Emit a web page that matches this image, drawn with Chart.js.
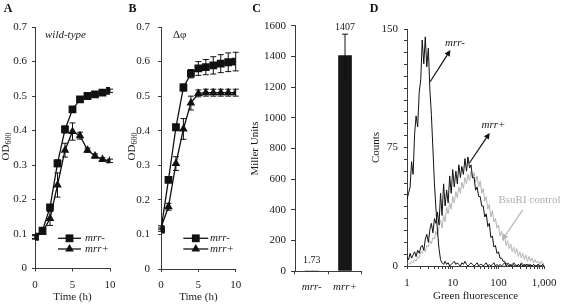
<!DOCTYPE html>
<html>
<head>
<meta charset="utf-8">
<script src="https://cdn.jsdelivr.net/npm/chart.js@4.4.1/dist/chart.umd.min.js"></script>
<style>
html,body{margin:0;padding:0;background:#fff;}
body{width:564px;height:304px;position:relative;overflow:hidden;}
canvas{position:absolute;top:0;}
</style>
</head>
<body>
<canvas id="panelA" width="125" height="304" style="left:0px"></canvas>
<canvas id="panelB" width="125" height="304" style="left:125px"></canvas>
<canvas id="panelC" width="125" height="304" style="left:245px"></canvas>
<canvas id="panelD" width="196" height="304" style="left:368px"></canvas>
<script>
// ---------- data ----------
const timeHours = [0,1,2,3,4,5,6,7,8,9,10];
const seriesNames = ['mrr-','mrr+'];

const wildTypeMrrMinus    = [0.092,0.110,0.177,0.305,0.403,0.461,0.490,0.500,0.505,0.510,0.515];
const wildTypeMrrMinusErr = [0.005,0.005,0.008,0.010,0.010,0.008,0.006,0.005,0.005,0.005,0.005];
const wildTypeMrrPlus     = [0.090,0.105,0.145,0.242,0.343,0.397,0.385,0.343,0.326,0.316,0.312];
const wildTypeMrrPlusErr  = [0.005,0.006,0.020,0.035,0.020,0.025,0.010,0.006,0.006,0.005,0.005];

const deltaPhiMrrMinus    = [0.114,0.258,0.410,0.525,0.565,0.580,0.584,0.589,0.594,0.598,0.600];
const deltaPhiMrrMinusErr = [0.005,0.006,0.008,0.010,0.012,0.020,0.022,0.025,0.026,0.027,0.027];
const deltaPhiMrrPlus     = [0.120,0.180,0.305,0.405,0.480,0.508,0.510,0.510,0.510,0.510,0.510];
const deltaPhiMrrPlusErr  = [0.005,0.010,0.020,0.030,0.020,0.010,0.010,0.010,0.010,0.010,0.010];

const odTickLabels = ['0','0.1','0.2','0.3','0.4','0.5','0.6','0.7'];

const strains = ['mrr-','mrr+'];
const millerUnits = [1.73, 1407];
const millerUnitsErr = [0, 138];
const millerValueLabels = ['1.73','1407'];
const millerTickLabels = ['0','200','400','600','800','1000','1200','1400','1600'];

const fluorescenceBins = [1,1.08,1.17,1.26,1.36,1.47,1.58,1.71,1.85,2,2.15,2.33,2.51,2.71,2.93,3.16,3.41,3.69,3.98,4.3,4.64,5.01,5.41,5.84,6.31,6.81,7.36,7.94,8.58,9.26,
10,10.8,11.7,12.6,13.6,14.7,15.8,17.1,18.5,20,21.5,23.3,25.1,27.1,29.3,31.6,34.1,36.9,39.8,43,46.4,50.1,54.1,58.4,63.1,68.1,73.6,79.4,85.8,92.6,
100,108,117,126,136,147,158,171,185,200,215,233,251,271,293,316,341,369,398,430,464,501,541,584,631,681,736,794,858,926,1000];

const mrrMinusCounts = [42,46,50,66,58,84,95,88,110,118,143,128,145,126,138,112,96,74,52,36,22,11,4,2,1,3,1,2,0,1,
2,3,1,2,1,0,2,1,3,1,0,1,2,1,0,1,2,0,1,1,0,1,2,0,1,0,1,2,0,1,
0,1,0,1,2,0,1,0,1,0,1,0,0,1,0,1,0,1,0,0,1,0,0,1,0,0,1,0,0,1,0];

const mrrPlusCounts = [6,4,8,5,7,9,6,10,8,12,
13,10,17,20,15,23,27,21,30,27,
34,26,46,32,52,38,48,40,57,46,
61,50,60,52,64,56,63,58,68,60,
69,62,64,56,56,48,50,44,44,38,
38,31,33,25,27,18,19,12,13,8,
9,5,5,3,3,1,2,1,0,1,
2,1,0,1,0,2,1,0,1,1,
0,1,0,1,0,0,1,0,0,1,0];

const bsuRIControlCounts = [1,2,1,3,2,4,3,6,5,9,
8,11,9,13,12,16,14,18,17,22,
19,25,29,24,32,28,37,33,40,36,
44,40,47,43,50,46,53,49,56,52,
58,54,60,55,59,53,57,50,54,46,
49,41,44,36,39,31,35,28,30,24,
26,19,22,16,19,13,16,11,14,9,
12,8,11,6,9,5,8,4,7,3,
6,3,5,2,4,2,3,1,3,1,2];

const fluorTickValues = [1,2,3,4,5,6,7,8,9,10,20,30,40,50,60,70,80,90,100,200,300,400,500,600,700,800,900,1000];
const fluorTickLabels = {1:'1',10:'10',100:'100',1000:'1,000'};
const countTickLabels = {0:'0',75:'75',150:'150'};

// ---------- style ----------
const SERIF = "'Liberation Serif','Times New Roman',serif";
Chart.defaults.font.family = SERIF;
Chart.defaults.font.size = 11;
Chart.defaults.color = '#1a1a1a';
Chart.defaults.animation = false;
Chart.defaults.plugins.legend.display = false;
Chart.defaults.plugins.tooltip.enabled = false;
const AXIS = '#3a3a3a';
const INK = '#111';

function letter(ctx, t, cx, cy) {
  ctx.save();
  ctx.font = `bold 12px ${SERIF}`;
  ctx.fillStyle = INK; ctx.textAlign = 'center'; ctx.textBaseline = 'middle';
  ctx.fillText(t, cx, cy);
  ctx.restore();
}
function drawOD(ctx, cx, cy) {
  ctx.save();
  ctx.translate(cx, cy);
  ctx.rotate(-Math.PI / 2);
  ctx.fillStyle = '#1a1a1a';
  ctx.textBaseline = 'alphabetic';
  ctx.font = `11px ${SERIF}`;
  const w1 = ctx.measureText('OD').width;
  ctx.font = `8px ${SERIF}`;
  const w2 = ctx.measureText('600').width;
  const start = -(w1 + w2) / 2;
  ctx.font = `11px ${SERIF}`;
  ctx.fillText('OD', start, 4);
  ctx.font = `8px ${SERIF}`;
  ctx.fillText('600', start + w1, 6.5);
  ctx.restore();
}
function drawTri(ctx, x, y, r) {
  ctx.beginPath();
  ctx.moveTo(x, y - r);
  ctx.lineTo(x + r * 0.866, y + r * 0.5);
  ctx.lineTo(x - r * 0.866, y + r * 0.5);
  ctx.closePath(); ctx.fill();
}
function drawGrowthLegend(ctx, x0, x1, textX, y0, y1) {
  ctx.save();
  ctx.strokeStyle = INK; ctx.fillStyle = INK; ctx.lineWidth = 1.3;
  const mx = (x0 + x1) / 2;
  [y0, y1].forEach((y) => { ctx.beginPath(); ctx.moveTo(x0, y); ctx.lineTo(x1, y); ctx.stroke(); });
  ctx.fillRect(mx - 3.9, y0 - 3.9, 7.8, 7.8);
  drawTri(ctx, mx, y1, 5);
  ctx.font = `italic 11px ${SERIF}`;
  ctx.textBaseline = 'middle'; ctx.textAlign = 'left';
  ctx.fillStyle = '#1a1a1a';
  ctx.fillText(seriesNames[0], textX, y0);
  ctx.fillText(seriesNames[1], textX, y1);
  ctx.restore();
}

const errorBarsPlugin = {
  id: 'errorBars',
  afterDatasetsDraw(chart) {
    const ctx = chart.ctx; const ys = chart.scales.y;
    chart.data.datasets.forEach((ds, di) => {
      if (!ds.errors) return;
      const meta = chart.getDatasetMeta(di);
      meta.data.forEach((el, i) => {
        const e = ds.errors[i]; if (!e) return;
        const raw = ds.data[i]; const v = (raw && raw.y !== undefined) ? raw.y : raw;
        const yTop = ys.getPixelForValue(v + e), yBot = ys.getPixelForValue(v - e);
        const cap = ds.capHalf || 3;
        ctx.save();
        ctx.strokeStyle = ds.errorColor || INK; ctx.lineWidth = 1;
        ctx.beginPath();
        ctx.moveTo(el.x, yTop); ctx.lineTo(el.x, yBot);
        ctx.moveTo(el.x - cap, yTop); ctx.lineTo(el.x + cap, yTop);
        ctx.moveTo(el.x - cap, yBot); ctx.lineTo(el.x + cap, yBot);
        ctx.stroke();
        ctx.restore();
      });
    });
  }
};

function axisGrid() { return { drawOnChartArea: false, tickLength: 3, color: AXIS, lineWidth: 1 }; }

function growthChart(id, minus, minusErr, plus, plusErr, cfg) {
  return new Chart(document.getElementById(id), {
    type: 'line',
    data: {
      datasets: [
        { data: timeHours.map((t, i) => ({ x: t, y: minus[i] })), errors: minusErr,
          borderColor: INK, borderWidth: 1.3, pointStyle: 'rect', pointRadius: 5.5,
          pointBackgroundColor: INK, pointBorderColor: INK, pointBorderWidth: 0, tension: 0 },
        { data: timeHours.map((t, i) => ({ x: t, y: plus[i] })), errors: plusErr,
          borderColor: INK, borderWidth: 1.3, pointStyle: 'triangle', pointRadius: 5,
          pointBackgroundColor: INK, pointBorderColor: INK, pointBorderWidth: 0, tension: 0 }
      ]
    },
    options: {
      responsive: false, maintainAspectRatio: false,
      layout: { padding: { left: 0, top: cfg.top, right: cfg.right, bottom: 0 } },
      scales: {
        x: { type: 'linear', min: 0, max: 10,
             ticks: { stepSize: 5, padding: 7, maxRotation: 0, color: '#1a1a1a' },
             grid: axisGrid(), border: { color: AXIS },
             title: { display: true, text: 'Time (h)', color: '#1a1a1a', padding: { top: 0, bottom: 0 } },
             afterFit(s) { s.height = cfg.xh; } },
        y: { min: 0, max: 0.7,
             ticks: { stepSize: 0.1, padding: cfg.ypad, color: '#1a1a1a', callback: (v) => odTickLabels[Math.round(v * 10)] },
             grid: axisGrid(), border: { color: AXIS },
             afterFit(s) { s.width = cfg.yw; } }
      }
    },
    plugins: [errorBarsPlugin, { id: 'decor' + id, afterDraw(chart) { cfg.decor(chart.ctx); } }]
  });
}

// Panel A
growthChart('panelA', wildTypeMrrMinus, wildTypeMrrMinusErr, wildTypeMrrPlus, wildTypeMrrPlusErr, {
  top: 27, right: 15, xh: 35.5, yw: 35, ypad: 5,
  decor(ctx) {
    letter(ctx, 'A', 8, 9);
    drawOD(ctx, 4.5, 146.5);
    ctx.save();
    ctx.font = `italic 11px ${SERIF}`; ctx.fillStyle = '#1a1a1a'; ctx.textBaseline = 'middle';
    ctx.fillText('wild-type', 45, 35);
    ctx.restore();
    drawGrowthLegend(ctx, 58, 81, 85, 238.3, 249);
  }
});

// Panel B
growthChart('panelB', deltaPhiMrrMinus, deltaPhiMrrMinusErr, deltaPhiMrrPlus, deltaPhiMrrPlusErr, {
  top: 27, right: 14.3, xh: 35, yw: 36, ypad: 8,
  decor(ctx) {
    letter(ctx, 'B', 7.5, 9);
    drawOD(ctx, 5.5, 146.5);
    ctx.save();
    ctx.font = `11px ${SERIF}`; ctx.fillStyle = '#1a1a1a'; ctx.textBaseline = 'middle';
    ctx.fillText('\u0394\u03C6', 48, 35);
    ctx.restore();
    drawGrowthLegend(ctx, 58.3, 83.3, 85, 238.3, 249);
  }
});

// Panel C
new Chart(document.getElementById('panelC'), {
  type: 'bar',
  data: { labels: strains, datasets: [{ data: millerUnits, errors: millerUnitsErr, capHalf: 3,
    backgroundColor: '#161616', borderWidth: 0, barPercentage: 0.41, categoryPercentage: 1 }] },
  options: {
    responsive: false, maintainAspectRatio: false,
    layout: { padding: { left: 0, top: 25.7, right: 8.3, bottom: 0 } },
    scales: {
      x: { ticks: { padding: 5.8, color: '#1a1a1a', font: { style: 'italic' } },
           grid: Object.assign(axisGrid(), { offset: true }), border: { color: AXIS },
           afterFit(s) { s.height = 32.7; } },
      y: { min: 0, max: 1600,
           ticks: { stepSize: 200, padding: 5, color: '#1a1a1a', callback: (v) => millerTickLabels[Math.round(v / 200)] },
           grid: Object.assign(axisGrid(), { tickLength: 4 }), border: { color: AXIS },
           title: { display: true, text: 'Miller Units', color: '#1a1a1a', padding: { top: 3.4, bottom: 0 } },
           afterFit(s) { s.width = 50; } }
    }
  },
  plugins: [errorBarsPlugin, { id: 'decorC', afterDraw(chart) {
    const ctx = chart.ctx; const ys = chart.scales.y; const meta = chart.getDatasetMeta(0);
    letter(ctx, 'C', 11.5, 9);
    ctx.save();
    ctx.font = `10px ${SERIF}`; ctx.fillStyle = '#1a1a1a'; ctx.textAlign = 'center'; ctx.textBaseline = 'middle';
    const zero = ys.getPixelForValue(0);
    meta.data.forEach((el, i) => {
      const y = Math.min(ys.getPixelForValue(millerUnits[i] + millerUnitsErr[i]) - 7, zero - 11);
      ctx.fillText(millerValueLabels[i], el.x, y);
    });
    ctx.restore();
  } }]
});

// Panel D
function arrow(ctx, x0, y0, x1, y1, color) {
  ctx.save();
  ctx.strokeStyle = color; ctx.fillStyle = color; ctx.lineWidth = 1.2;
  const a = Math.atan2(y1 - y0, x1 - x0);
  const L = 6, W = 3;
  const bx = x1 - L * Math.cos(a), by = y1 - L * Math.sin(a);
  ctx.beginPath(); ctx.moveTo(x0, y0); ctx.lineTo(bx, by); ctx.stroke();
  ctx.beginPath();
  ctx.moveTo(x1, y1);
  ctx.lineTo(bx + W * Math.sin(a), by - W * Math.cos(a));
  ctx.lineTo(bx - W * Math.sin(a), by + W * Math.cos(a));
  ctx.closePath(); ctx.fill();
  ctx.restore();
}
new Chart(document.getElementById('panelD'), {
  type: 'line',
  data: {
    datasets: [
      { label: 'mrr-', data: fluorescenceBins.map((x, i) => ({ x, y: mrrMinusCounts[i] })),
        borderColor: '#111', borderWidth: 1, pointRadius: 0, tension: 0, order: 1 },
      { label: 'mrr+', data: fluorescenceBins.map((x, i) => ({ x, y: mrrPlusCounts[i] })),
        borderColor: '#111', borderWidth: 1, pointRadius: 0, tension: 0, order: 2 },
      { label: 'BsuRI control', data: fluorescenceBins.map((x, i) => ({ x, y: bsuRIControlCounts[i] })),
        borderColor: '#b4b4b4', borderWidth: 1, pointRadius: 0, tension: 0, order: 3 }
    ]
  },
  options: {
    responsive: false, maintainAspectRatio: false,
    layout: { padding: { left: 0, top: 29, right: 13.3, bottom: 0 } },
    scales: {
      x: { type: 'logarithmic', min: 1, max: 1000,
           afterBuildTicks(s) { s.ticks = fluorTickValues.map((v) => ({ value: v })); },
           ticks: { autoSkip: false, maxRotation: 0, padding: 7.4, color: '#1a1a1a',
                    callback: (v) => fluorTickLabels[v] || '' },
           grid: axisGrid(), border: { color: AXIS },
           title: { display: true, text: 'Green fluorescence', color: '#1a1a1a', padding: { top: 0, bottom: 1.4 } },
           afterFit(s) { s.height = 38; } },
      y: { min: 0, max: 150,
           ticks: { stepSize: 7.5, autoSkip: false, padding: 6, color: '#1a1a1a',
                    callback: (v) => countTickLabels[v] || '' },
           grid: axisGrid(), border: { color: AXIS },
           title: { display: true, text: 'Counts', color: '#1a1a1a', padding: { top: 1.4, bottom: 0 } },
           afterFit(s) { s.width = 39; } }
    }
  },
  plugins: [{ id: 'decorD', afterDraw(chart) {
    const ctx = chart.ctx; const xs = chart.scales.x, ys = chart.scales.y;
    const P = (x, y) => [xs.getPixelForValue(x), ys.getPixelForValue(y)];
    letter(ctx, 'D', 6, 9);
    const a1 = P(3.21, 116.6), b1 = P(8.9, 136.7);
    arrow(ctx, a1[0], a1[1], b1[0], b1[1], '#111');
    const a2 = P(23.2, 65.2), b2 = P(64.3, 84.2);
    arrow(ctx, a2[0], a2[1], b2[0], b2[1], '#111');
    const a3 = P(335, 35.4), b3 = P(121, 16.5);
    arrow(ctx, a3[0], a3[1], b3[0], b3[1], '#b4b4b4');
    ctx.save();
    ctx.textBaseline = 'middle';
    ctx.font = `italic 11px ${SERIF}`; ctx.fillStyle = '#1a1a1a'; ctx.textAlign = 'center';
    const t1 = P(11.2, 141); ctx.fillText('mrr-', t1[0], t1[1]);
    const t2 = P(78, 89.2); ctx.fillText('mrr+', t2[0], t2[1]);
    ctx.font = `11px ${SERIF}`; ctx.fillStyle = '#b0b0b0'; ctx.textAlign = 'left';
    const t3 = P(100, 41.8); ctx.fillText('BsuRI control', t3[0], t3[1]);
    ctx.restore();
  } }]
});
</script>
</body>
</html>
